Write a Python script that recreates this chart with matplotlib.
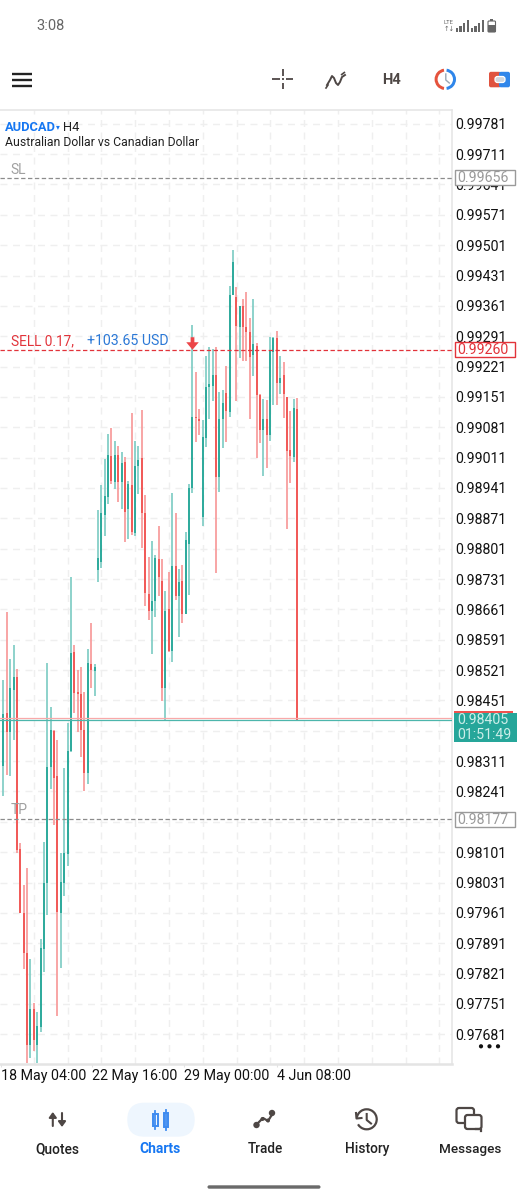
import matplotlib
matplotlib.use("Agg")
import matplotlib.pyplot as plt
from matplotlib.patches import Rectangle, FancyBboxPatch, Wedge, Circle, Arc
from matplotlib.ticker import FixedLocator, NullFormatter
import numpy as np

plt.rcParams['font.family'] = ['Roboto', 'DejaVu Sans']

# ---------- data: prices in points (1 point = 0.00001) ----------
highs = [98498,98654,98546,98578,98523,98122,98025,98064,97854,97753,
         97732,97900,98124,98537,98435,98382,98359,98099,98295,98398,
         98735,98578,98521,98528,98470,98569,98629,98535,98890,98947,
         99007,99065,99079,99049,99037,99024,99012,98957,99113,99049,
         99037,99120,98924,98781,98818,98786,98853,98777,98703,98747,
         98929,98883,98754,98763,98839,98950,99316,99208,99123,99097,
         99245,99266,99261,99266,99162,99166,99222,99406,99489,99404,
         99360,99376,99393,99333,99376,99275,99157,99146,99143,99289,
         99289,99303,99245,99231,99150,99118,99146,99148]
lows = [98230,98279,98276,98359,98099,97960,97831,97614,97626,97642,
        97614,97686,97824,97956,98246,98163,97723,97833,97999,98069,
        98332,98422,98378,98320,98242,98258,98479,98461,98724,98756,
        98830,98904,98950,98938,98908,98892,98816,98823,98832,98830,
        98927,98802,98668,98636,98558,98643,98691,98449,98405,98562,
        98539,98682,98597,98629,98650,98694,98929,99047,99063,98853,
        99035,99100,99141,98744,98931,99033,99047,99104,99386,99141,
        99240,99233,99233,99100,99199,99010,99044,98968,98987,99049,
        99132,99132,99157,99102,98846,98952,99000,98405]
body_tops = [98419,98422,98479,98505,98505,98108,97960,97868,97739,97739,
             97700,97880,98029,98297,98382,98380,98276,98032,98099,98334,
             98560,98562,98470,98465,98382,98537,98535,98528,98779,98883,
             98922,99017,99014,99017,99017,98998,99000,98950,98947,98991,
             99005,99010,98883,98696,98680,98779,98777,98726,98657,98661,
             98761,98761,98724,98726,98821,98940,99104,99104,99100,99058,
             99173,99180,99201,99201,99100,99137,99160,99386,99462,99381,
             99360,99360,99312,99300,99273,99268,99155,99100,99100,99256,
             99286,99286,99194,99201,99150,99028,99125,99123]
body_bottoms = [98299,98378,98378,98475,98106,97960,97868,97656,97656,97667,
                97656,97697,97877,98029,98297,98272,97963,97960,98029,98096,
                98334,98468,98465,98382,98283,98283,98521,98518,98751,98770,
                98878,98920,98957,98954,98954,98954,98885,98892,98839,98837,
                98991,98883,98698,98657,98657,98680,98735,98479,98479,98565,
                98565,98691,98691,98650,98650,98811,98940,99102,99095,98874,
                99056,99173,99176,98966,98966,99100,99118,99116,99386,99314,
                99312,99312,99300,99243,99247,99155,99074,99074,99063,99063,
                99254,99183,99183,99157,99026,99014,99012,98405]
up_candles = [0,2,3,8,10,11,12,13,14,17,18,19,20,25,27,28,29,30,31,33,35,37,39,40,
              44,45,48,50,52,54,55,56,59,60,61,62,64,65,67,68,70,74,77,79,80,82,86]

price_labels = ["0.99781","0.99711","0.99641","0.99571","0.99501","0.99431","0.99361",
                "0.99291","0.99221","0.99151","0.99081","0.99011","0.98941","0.98871",
                "0.98801","0.98731","0.98661","0.98591","0.98521","0.98451",
                "0.98311","0.98241","0.98101","0.98031","0.97961","0.97891",
                "0.97821","0.97751","0.97681"]
hidden_grid_prices = [0.98381, 0.98171]
time_labels = ["18 May 04:00", "22 May 16:00", "29 May 00:00", "4 Jun 08:00"]
time_idx = [-0.7, 26.2, 53.5, 81.0]

SL, TP, ENTRY, BID, ASK = 0.99656, 0.98177, 0.99260, 0.98405, 0.98410
ENTRY_IDX, ENTRY_MARK = 56, 0.99275

P = 1e-5
W, H = 527, 1200
fig = plt.figure(figsize=(W/100, H/100), dpi=100, facecolor='white')

# ---------- chart axes ----------
L, R, T, B = 0.0, 452.0, 110.0, 1064.0
ax = fig.add_axes([L/W, 1-B/H, (R-L)/W, (B-T)/H], zorder=2)
px_per_unit = 43357.0
y_ref = 123.8
top_price = 0.99781 + (y_ref-T)/px_per_unit
ax.set_ylim(0.99781 - (B-y_ref)/px_per_unit, top_price)
spacing = 3.375
ax.set_xlim((L-3.4)/spacing, (R-3.4)/spacing)
def price_px(v):
    return T + (top_price - v)*px_per_unit

price_vals = [float(s) for s in price_labels]
ax.yaxis.tick_right()
ax.set_yticks(price_vals)
ax.set_yticklabels(price_labels, fontsize=10.15, color='#111111')
ax.tick_params(axis='y', length=0, pad=2.5)
ax.set_xticks(time_idx)
ax.set_xticklabels(time_labels, fontsize=10.25, color='#111111', ha='left')
ax.tick_params(axis='x', length=2.5, color='#e2e2e2', pad=0.8)
grid_px = [33.8*i for i in range(1, 14)]
ax.xaxis.set_minor_locator(FixedLocator([(g-3.4)/spacing for g in grid_px]))
ax.xaxis.set_minor_formatter(NullFormatter())
ax.tick_params(axis='x', which='minor', length=0)
gkw = dict(color='#efefef', lw=1.0, linestyle=(0, (5, 4)))
ax.grid(True, axis='y', which='major', **gkw)
ax.grid(True, axis='x', which='minor', **gkw)
ax.grid(False, axis='x', which='major')
for hp in hidden_grid_prices:
    ax.axhline(hp, zorder=0.5, **gkw)
ax.set_axisbelow(True)
for s, sp in ax.spines.items():
    sp.set_color('#e4e4e4')
    sp.set_linewidth(1.1)
ax.spines['bottom'].set_linewidth(1.8)
ax.spines['left'].set_visible(False)

# ---------- candles ----------
x = np.arange(len(highs))
up = np.isin(x, up_candles)
hi, lo = np.array(highs)*P, np.array(lows)*P
tp_, bt = np.array(body_tops)*P, np.array(body_bottoms)*P
wick_c = np.where(up, '#80cdc5', '#f89a9a')
body_c = np.where(up, '#22a596', '#f0504e')
ax.vlines(x, lo, hi, colors=list(wick_c), linewidth=1.25, zorder=3)
bt_adj = np.minimum(bt, tp_ - 0.00002)
ax.vlines(x, bt_adj, tp_, colors=list(body_c), linewidth=1.25, zorder=4)

# ---------- price lines ----------
ax.axhline(SL, color='#8c8c8c', lw=0.9, linestyle=(0, (3.5, 2)), zorder=5)
ax.axhline(TP, color='#8c8c8c', lw=0.9, linestyle=(0, (3.5, 2)), zorder=5)
ax.axhline(ENTRY, color='#e2333a', lw=0.9, linestyle=(0, (3.5, 2)), zorder=5)
ax.axhline(ASK, color='#f9a9a9', lw=0.9, zorder=5)
ax.axhline(BID, color='#4db6ac', lw=0.9, zorder=5)
arrow = [(-.3, 1), (.3, 1), (.3, .2), (1, .2), (0, -1), (-1, .2), (-.3, .2), (-.3, 1)]
ax.plot([ENTRY_IDX], [ENTRY_MARK], marker=arrow, ms=9, color='#ec4548', mew=0, zorder=6)

# ---------- UI overlay in pixel coordinates ----------
ui = fig.add_axes([0, 0, 1, 1], zorder=5)
ui.set_xlim(0, W); ui.set_ylim(H, 0); ui.axis('off'); ui.patch.set_alpha(0)
DARK = '#4e4745'
BLUE = '#1677f2'

def val_box(v, c, ec):
    yc = price_px(v)
    ui.add_patch(Rectangle((455, yc-7.5), 60, 15, fc='white', ec=ec, lw=1.0, zorder=4))
    ui.text(457.7, yc+0.3, f"{v:.5f}", color=c, fontsize=10.15, va='center', ha='left', zorder=5)
val_box(SL, '#9a9a9a', '#9a9a9a')
val_box(TP, '#9a9a9a', '#9a9a9a')
val_box(ENTRY, '#e2333a', '#e2333a')

ui.text(36, 26.5, "3:08", fontsize=10.5, color='#666666', va='center', ha='left')
# status icons
ui.text(449, 22.8, "LTE", fontsize=4.2, color='#666666', ha='center', va='center')
ui.text(449, 29, "↑↓", fontsize=4.8, color='#666666', ha='center', va='center', family='DejaVu Sans')
for bx, bh in zip([455.5, 459.2, 463, 466.8, 470.5, 474.2, 478, 481.8], [4, 6, 9, 12, 4, 6, 9, 12]):
    ui.add_patch(Rectangle((bx, 32-bh), 2.4, bh, fc='#666666', ec='none'))
ui.add_patch(FancyBboxPatch((488, 21), 7.5, 11, boxstyle='round,pad=0,rounding_size=1', fc='white', ec='#666666', lw=0.8))
ui.add_patch(Rectangle((488, 24.5), 7.5, 7.5, fc='#666666', ec='none'))
ui.add_patch(Rectangle((490.2, 19.3), 3, 1.7, fc='#666666', ec='none'))

# hamburger
for yy in (73.5, 79.5, 85.5):
    ui.plot([12, 32], [yy, yy], color='#222222', lw=1.7, solid_capstyle='butt')
# crosshair
for xs, ys in (([272, 279.5], [79, 79]), ([286, 293], [79, 79]), ([282.7, 282.7], [69, 75.5]), ([282.7, 282.7], [82.5, 89]), ([282.7, 282.7], [78, 80])):
    ui.plot(xs, ys, color=DARK, lw=1.3, solid_capstyle='butt')
# wave icon
ui.plot([327, 330, 332, 334, 336, 338, 340, 342, 345],
        [85, 80, 76, 78, 83, 85, 82, 77, 75], color=DARK, lw=1.4)
ui.plot([341, 347], [75, 70.5], color=DARK, lw=1.2, linestyle=(0, (3, 1.5)))
ui.plot([326, 328], [88, 85], color=DARK, lw=1.2)
ui.text(391.7, 79.5, "H4", fontsize=10.5, color=DARK, fontweight='bold', ha='center', va='center')
# clock icon
ui.add_patch(Wedge((445.3, 79.3), 10.7, 98, 262, width=3, fc='#e5533d', ec='none'))
ui.add_patch(Wedge((445.3, 79.3), 10.7, -82, 82, width=3, fc='#2f86ea', ec='none'))
ui.plot([445.8, 445.8, 449.3], [74, 80, 83], color='#9aa7b5', lw=1.0)
# trade icon
ui.add_patch(FancyBboxPatch((489, 71.8), 12, 15.5, boxstyle='round,pad=0,rounding_size=2', fc='#e0533f', ec='none'))
ui.add_patch(FancyBboxPatch((499, 71.8), 11, 15.5, boxstyle='round,pad=0,rounding_size=2', fc='#2f86ea', ec='none'))
ui.add_patch(FancyBboxPatch((495, 76.5), 10, 6, boxstyle='round,pad=0,rounding_size=2.5', fc='#cfd6de', ec='white', lw=0.9))

# chart header
ui.text(5, 127.5, "AUDCAD", fontsize=9.3, color=BLUE, fontweight='bold', va='center', ha='left')
ui.text(58.3, 127, "▾", fontsize=5.5, color=BLUE, va='center', ha='center', family='DejaVu Sans')
ui.text(63.3, 127.5, "H4", fontsize=9.3, color='#222222', va='center', ha='left')
ui.text(5, 142, "Australian Dollar vs Canadian Dollar", fontsize=8.8, color='#222222', va='center', ha='left')
ui.text(10.7, 169.5, "SL", fontsize=10, color='#a0a0a0', va='center', ha='left')
ui.text(10.7, 810.5, "TP", fontsize=10, color='#a0a0a0', va='center', ha='left')
ui.text(11, 341, "SELL 0.17,", fontsize=9.8, color='#e2333a', va='center', ha='left')
ui.text(87, 341, "+103.65 USD", fontsize=10.2, color='#2b78d6', va='center', ha='left')

# current price box
ui.add_patch(Rectangle((454, 710.7), 59, 2.2, fc='#ef5350', ec='none', zorder=4))
ui.add_patch(Rectangle((454, 712.9), 63, 29, fc='#26a69a', ec='none', zorder=4))
ui.text(457.7, 720.3, f"{BID:.5f}", fontsize=10.15, color='#cdeee9', va='center', ha='left', zorder=5)
ui.text(457.7, 735, "01:51:49", fontsize=10.15, color='#cdeee9', va='center', ha='left', zorder=5)

# more dots
for dx in (481, 489.5, 498):
    ui.add_patch(Circle((dx, 1046.3), 2.1, fc='#111111', ec='none'))

# bottom navigation
ui.add_patch(FancyBboxPatch((127.3, 1102.7), 67.4, 34, boxstyle='round,pad=0,rounding_size=17', fc='#eef6fe', ec='none'))
for cx, lab, c, wt, fs in ((57.3, "Quotes", '#222222', 'medium', 9.9), (160.5, "Charts", BLUE, 'bold', 10),
                           (265, "Trade", '#222222', 'medium', 9.8), (367.3, "History", '#222222', 'medium', 9.9),
                           (469.7, "Messages", '#222222', 'medium', 9.7)):
    ui.text(cx, 1149, lab, fontsize=fs, color=c, fontweight=wt, ha='center', va='center')
# quotes icon
ui.annotate("", (52.8, 1112), (52.8, 1126), arrowprops=dict(arrowstyle='-|>,head_width=0.22,head_length=0.3', color=DARK, lw=1.5, shrinkA=0, shrinkB=0))
ui.annotate("", (62, 1127), (62, 1113), arrowprops=dict(arrowstyle='-|>,head_width=0.22,head_length=0.3', color=DARK, lw=1.5, shrinkA=0, shrinkB=0))
# charts icon
for cx, y0, y1, b0, b1 in ((155.3, 1111, 1129, 1114, 1126), (166, 1110, 1130, 1113, 1127)):
    ui.plot([cx, cx], [y0, y1], color='#3d8bf0', lw=1.3)
    ui.add_patch(Rectangle((cx-2.2, b0), 4.4, b1-b0, fc='#eef6fe', ec='#3d8bf0', lw=1.4))
# trade icon bottom
ui.plot([256, 263, 268, 273], [1125, 1118, 1121, 1113], color=DARK, lw=1.6)
for px_, py_, r_ in ((256.5, 1125, 3.2), (262.5, 1119, 2), (268, 1120.5, 2), (272, 1113, 3.2)):
    ui.add_patch(Circle((px_, py_), r_, fc=DARK, ec='none'))
# history icon
ui.add_patch(Arc((366.7, 1119.3), 20, 20, theta1=-170, theta2=150, ec=DARK, lw=1.6))
ui.plot([366.7, 366.7, 371], [1114, 1120, 1123.5], color=DARK, lw=1.5)
ui.plot([356, 356.5, 361.5], [1113, 1118.5, 1118], color=DARK, lw=1.5)
# messages icon
ui.add_patch(FancyBboxPatch((456.5, 1108), 17.5, 15, boxstyle='round,pad=0,rounding_size=2.5', fc='white', ec=DARK, lw=1.6))
ui.add_patch(FancyBboxPatch((465, 1115), 16.5, 14, boxstyle='round,pad=0,rounding_size=2.5', fc='white', ec=DARK, lw=1.6))
ui.plot([476, 480.5, 480.5], [1129, 1129, 1131], color=DARK, lw=1.6)
# home bar
ui.add_patch(FancyBboxPatch((207.5, 1185.3), 113, 3.4, boxstyle='round,pad=0,rounding_size=1.7', fc='#6a6a6a', ec='none'))

fig.savefig("out.png", dpi=100)
